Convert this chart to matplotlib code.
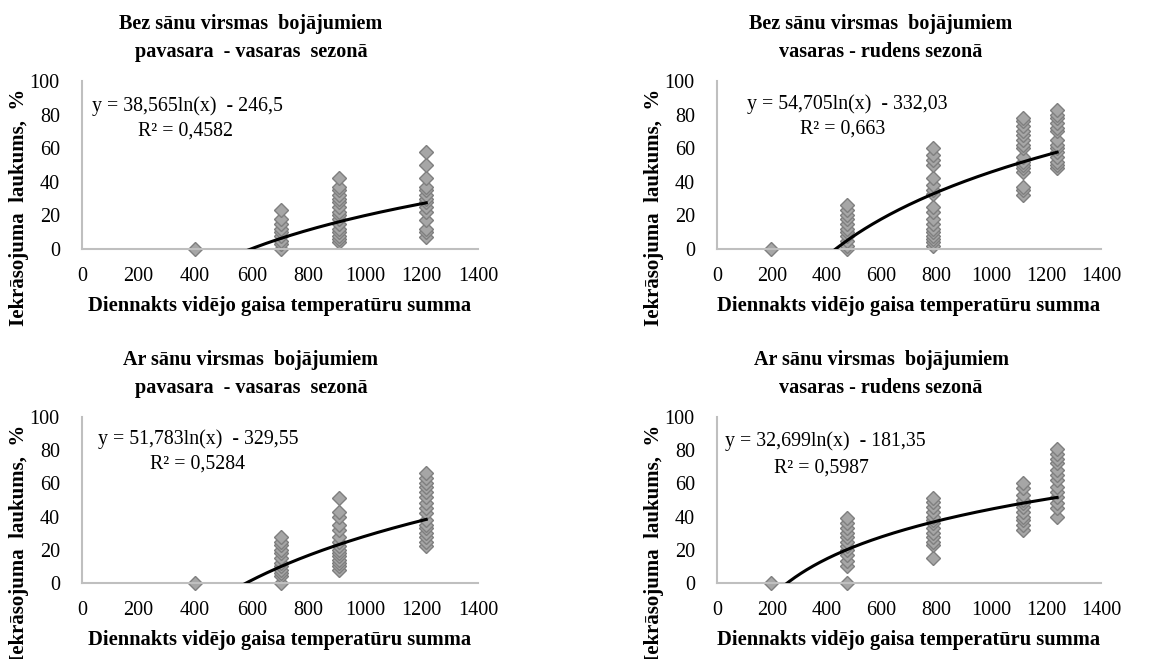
import numpy as np
import matplotlib
matplotlib.use("Agg")
import matplotlib.pyplot as plt

plt.rcParams['font.family'] = ['Liberation Serif', 'DejaVu Serif']

# --- data (x = temperature sum, y = % area) ---
# panel 1: bez sānu virsmas bojājumiem, pavasara - vasaras
p1_x = [400, 705, 910, 1217]
p1_y = [
    [0],
    [0, 3, 5, 8, 10, 12, 15, 18, 23],
    [4, 6, 8, 10, 12, 15, 18, 20, 22, 25, 28, 30, 32, 35, 37, 42],
    [7, 10, 12, 17, 22, 25, 28, 30, 32, 35, 37, 42, 50, 58],
]
# panel 2: bez sānu virsmas bojājumiem, vasaras - rudens
p2_x = [198, 473, 787, 1117, 1240]
p2_y = [
    [0],
    [0, 2, 5, 8, 10, 12, 15, 18, 20, 23, 26],
    [2, 4, 6, 8, 10, 12, 15, 18, 22, 25, 33, 35, 38, 42, 50, 53, 56, 60],
    [32, 35, 37, 46, 48, 50, 52, 55, 60, 62, 65, 68, 70, 73, 76, 78],
    [48, 50, 52, 55, 58, 60, 62, 65, 70, 72, 75, 78, 80, 83],
]
# panel 3: ar sānu virsmas bojājumiem, pavasara - vasaras
p3_x = [400, 705, 910, 1217]
p3_y = [
    [0],
    [0, 4, 6, 8, 10, 12, 15, 18, 20, 23, 25, 28],
    [8, 10, 12, 14, 16, 18, 20, 22, 25, 28, 32, 35, 40, 43, 51],
    [22, 25, 28, 30, 33, 35, 38, 42, 45, 48, 52, 55, 58, 60, 63, 66],
]
# panel 4: ar sānu virsmas bojājumiem, vasaras - rudens
p4_x = [198, 473, 787, 1117, 1240]
p4_y = [
    [0],
    [0, 10, 13, 17, 20, 22, 25, 28, 30, 33, 36, 39],
    [15, 23, 25, 28, 30, 33, 36, 38, 40, 43, 46, 49, 51],
    [32, 35, 38, 40, 43, 46, 48, 50, 53, 57, 60],
    [40, 45, 48, 52, 55, 58, 62, 65, 68, 72, 75, 78, 81],
]

# trendline coefficients (y = a*ln(x) + b) and R² as printed on the chart
coef_a = [38.565, 54.705, 51.783, 32.699]
coef_b = [-246.5, -332.03, -329.55, -181.35]
eq_labels = ['y = 38,565ln(x)  - 246,5', 'y = 54,705ln(x)  - 332,03',
             'y = 51,783ln(x)  - 329,55', 'y = 32,699ln(x)  - 181,35']
r2_labels = ['R² = 0,4582', 'R² = 0,663', 'R² = 0,5284', 'R² = 0,5987']

titles = ['Bez sānu virsmas  bojājumiem\npavasara  - vasaras  sezonā',
          'Bez sānu virsmas  bojājumiem\nvasaras - rudens sezonā',
          'Ar sānu virsmas  bojājumiem\npavasara  - vasaras  sezonā',
          'Ar sānu virsmas  bojājumiem\nvasaras - rudens sezonā']
xlabel = 'Diennakts vidējo gaisa temperatūru summa'
ylabel = 'Iekrāsojuma  laukums,  %'

W, H = 1176, 659
fig = plt.figure(figsize=(W / 100, H / 100), dpi=100)


def fx(px):
    return px / W


def fy(py):
    return 1 - py / H


# axes boxes in pixels: left, right, top, bottom
boxes = [(82, 478, 81, 249), (717, 1101, 81, 249),
         (82, 478, 417, 583), (717, 1101, 417, 583)]
title_x = [251, 881, 251, 881]
eq_pos = [(92, 106, 186, 131), (747, 104, 843, 129),
          (98, 439, 197, 464), (725, 441, 821, 468)]

panels = [(p1_x, p1_y), (p2_x, p2_y), (p3_x, p3_y), (p4_x, p4_y)]

for i, (xs, ys) in enumerate(panels):
    l, r, t, b = boxes[i]
    ax = fig.add_axes([fx(l), fy(b), fx(r - l), (b - t) / H])

    # scatter points
    px = []
    py = []
    for xv, yl in zip(xs, ys):
        px += [xv] * len(yl)
        py += yl
    ax.plot(px, py, linestyle='none', marker='D', markersize=7,
            markerfacecolor='#a6a6a6', markeredgecolor='#7f7f7f',
            markeredgewidth=1.0, zorder=2, clip_on=False)

    # log trendline over the data range
    xt = np.linspace(min(xs), max(xs), 300)
    ax.plot(xt, coef_a[i] * np.log(xt) + coef_b[i], color='black',
            linewidth=2.2, zorder=3)

    ax.set_xlim(0, 1400)
    ax.set_ylim(0, 100)
    ax.set_xticks(range(0, 1401, 200))
    ax.set_yticks(range(0, 101, 20))
    ax.tick_params(length=0, labelsize=14.5)
    ax.tick_params(axis='x', pad=13)
    ax.tick_params(axis='y', pad=16)
    for s in ['top', 'right']:
        ax.spines[s].set_visible(False)
    for s in ['left', 'bottom']:
        ax.spines[s].set_color('#bfbfbf')
        ax.spines[s].set_linewidth(1.5)

    # titles and labels
    fig.text(fx(title_x[i]), fy(t - 43), titles[i], ha='center', va='center',
             fontsize=14.5, fontweight='bold', linespacing=1.5)
    fig.text(fx((l + r) / 2), fy(b + 57), xlabel, ha='center', va='center',
             fontsize=14.8, fontweight='bold')
    fig.text(fx(l - 63), fy(t + 126), ylabel, ha='center', va='center',
             rotation=90, fontsize=15, fontweight='bold')
    ex, ey, rx, ry = eq_pos[i]
    fig.text(fx(ex), fy(ey), eq_labels[i], ha='left', va='center', fontsize=14.3)
    fig.text(fx(rx), fy(ry), r2_labels[i], ha='center', va='center', fontsize=14.3)

fig.savefig('out.png', dpi=100)
